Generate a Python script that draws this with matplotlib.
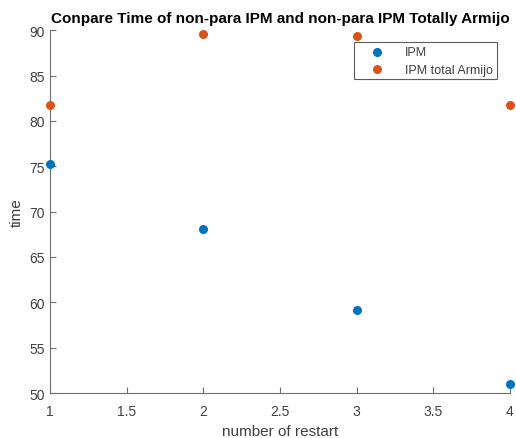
import matplotlib
matplotlib.use("Agg")
import matplotlib.pyplot as plt

plt.rcParams['font.family'] = ['Liberation Sans', 'DejaVu Sans']

restarts = [1, 2, 3, 4]
ipm_time = [75.3, 68.1, 59.1, 51.0]
armijo_time = [81.7, 89.6, 89.4, 81.8]
x_ticks = [1, 1.5, 2, 2.5, 3, 3.5, 4]
x_tick_labels = ['1', '1.5', '2', '2.5', '3', '3.5', '4']
y_ticks = [50, 55, 60, 65, 70, 75, 80, 85, 90]

fig = plt.figure(figsize=(5.16, 4.39), dpi=100)
ax = fig.add_axes([0.097, 0.1025, 0.891, 0.8265])

gray = '#404040'
axcol = '#6e6e6e'
ax.scatter(restarts, ipm_time, s=30, color='#0072BD', label='IPM', clip_on=False, zorder=3)
ax.scatter(restarts, armijo_time, s=30, color='#D95319', label='IPM total Armijo', clip_on=False, zorder=3)

ax.set_xlim(1, 4)
ax.set_ylim(50, 90)
ax.set_xticks(x_ticks)
ax.set_xticklabels(x_tick_labels)
ax.set_yticks(y_ticks)
ax.tick_params(direction='in', length=4, colors=axcol, labelcolor=gray, labelsize=10)
ax.tick_params(axis='x', pad=8)
for s in ['top', 'right']:
    ax.spines[s].set_visible(False)
for s in ['left', 'bottom']:
    ax.spines[s].set_color(axcol)

ax.set_xlabel('number of restart', fontsize=11, color=gray, labelpad=4)
ax.set_ylabel('time', fontsize=11, color=gray, labelpad=4)
ax.set_title('Conpare Time of non-para IPM and non-para IPM Totally Armijo',
             fontsize=11, fontweight='bold', color='black', pad=6)

leg = ax.legend(loc='upper right', bbox_to_anchor=(0.972, 0.967), borderaxespad=0,
                fontsize=9, frameon=True, fancybox=False, edgecolor='#333333',
                handlelength=3.0, handletextpad=0.8, borderpad=0.3, labelspacing=0.45)
leg.get_frame().set_linewidth(0.8)
for t in leg.get_texts():
    t.set_color(gray)

fig.savefig('out.png', dpi=100)
